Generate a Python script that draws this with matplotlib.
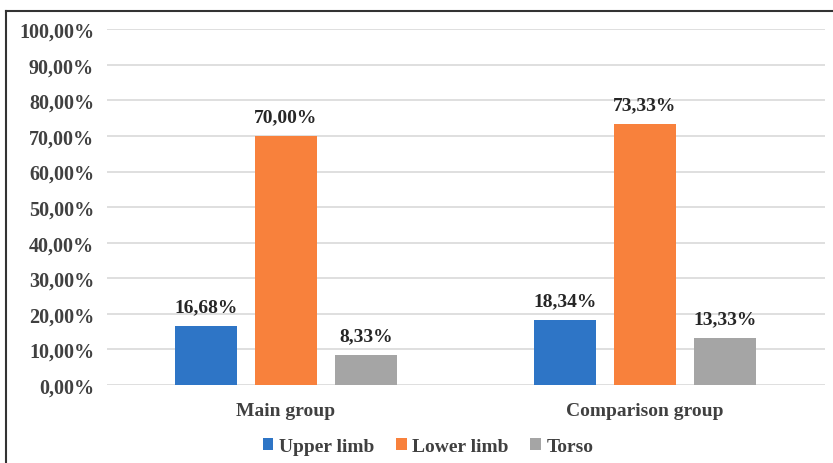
import matplotlib
matplotlib.use('Agg')
import matplotlib.pyplot as plt
from matplotlib.lines import Line2D
import numpy as np

# Data
groups = ['Main group', 'Comparison group']
series = ['Upper limb', 'Lower limb', 'Torso']
upper_limb = [16.68, 18.34]
lower_limb = [70.00, 73.33]
torso = [8.33, 13.33]
colors = ['#2E75C6', '#F8813C', '#A5A5A5']

plt.rcParams['font.family'] = ['Liberation Serif', 'DejaVu Serif']
plt.rcParams['font.weight'] = 'bold'

fig = plt.figure(figsize=(8.33, 4.64), dpi=100)
ax = fig.add_axes([106.5 / 833, 0.168, 718 / 833, 0.767])

x = np.arange(len(groups))
width = 0.173
step = 0.223
for i, (vals, name, col) in enumerate(zip([upper_limb, lower_limb, torso], series, colors)):
    pos = x + (i - 1) * step
    ax.bar(pos, vals, width, color=col, label=name, zorder=3)
    for px, v in zip(pos, vals):
        ax.text(px, v + 3.0, f'{v:.2f}%'.replace('.', ','), ha='center', va='bottom',
                fontsize=14, fontweight='bold', color='#262626')

ax.set_xlim(-0.5, 1.5)
ax.set_ylim(0, 100)
ax.set_yticks(np.arange(0, 101, 10))
ax.set_yticklabels([f'{t:.2f}%'.replace('.', ',') for t in np.arange(0, 101, 10)],
                   fontsize=14.5, fontweight='bold', color='#404040')
ax.set_xticks(x)
ax.set_xticklabels(groups, fontsize=14, fontweight='bold', color='#404040')
ax.tick_params(axis='y', length=0, pad=9)
ax.tick_params(axis='x', length=0, pad=12)
ax.grid(axis='y', color='#D9D9D9', lw=1.2, zorder=0)
for s in ax.spines.values():
    s.set_visible(False)

ax.legend(loc='upper center', bbox_to_anchor=(0.448, -0.1), ncol=3, frameon=False,
          handlelength=0.55, handleheight=0.55, handletextpad=0.3, columnspacing=1.1,
          prop={'size': 14, 'weight': 'bold'}, labelcolor='#404040')

# Frame lines along the top and left edge
fig.add_artist(Line2D([6 / 833, 6 / 833], [0, 1 - 12 / 464], transform=fig.transFigure,
                      color='#333333', lw=1.5))
fig.add_artist(Line2D([6 / 833, 1], [1 - 12 / 464, 1 - 12 / 464], transform=fig.transFigure,
                      color='#333333', lw=1.5))

fig.savefig('out.png', dpi=100)
